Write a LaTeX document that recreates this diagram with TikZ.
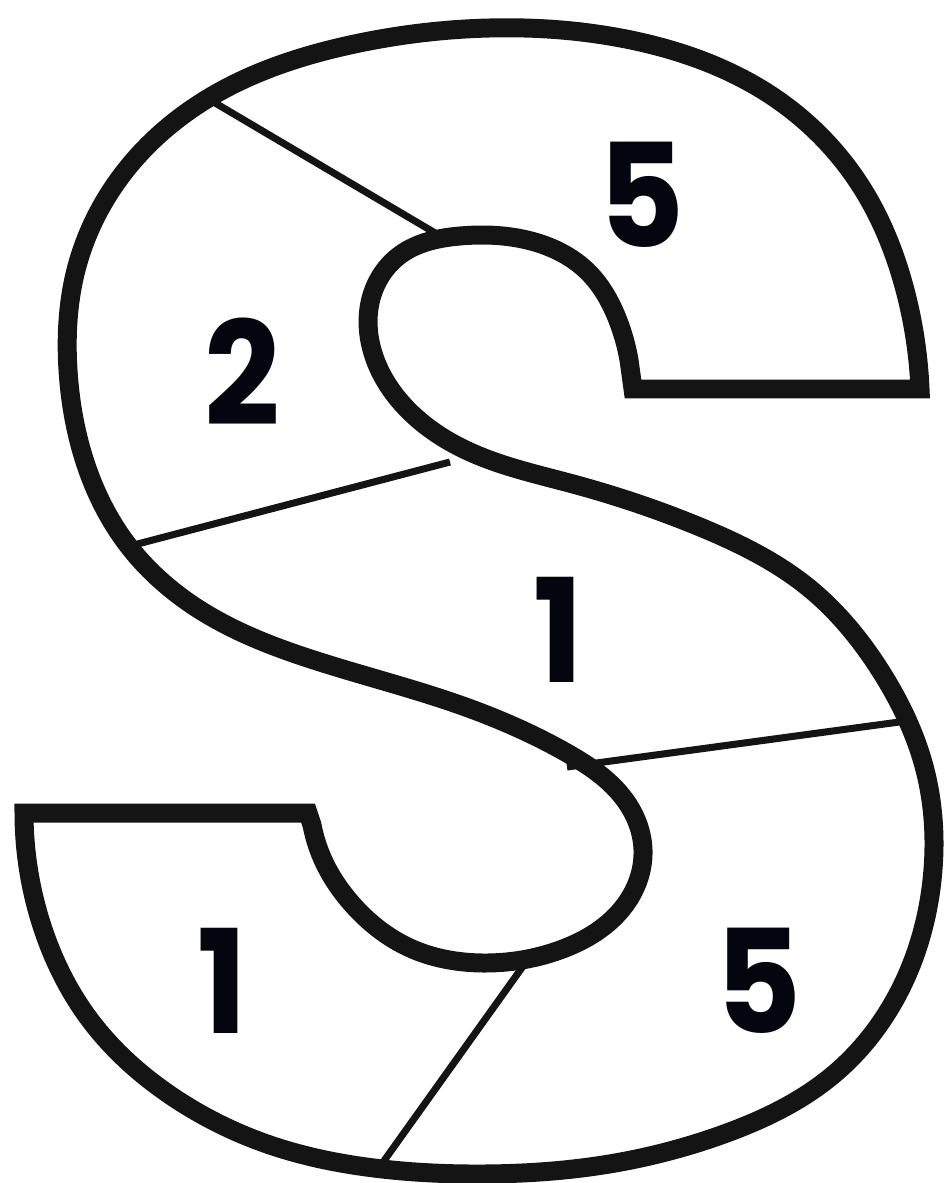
\documentclass[tikz,border=0pt]{standalone}
\usepackage{fontspec}
\setmainfont{Poppins}
\usetikzlibrary{hobby}
\definecolor{inkline}{HTML}{141414}
\definecolor{inkdigit}{HTML}{05050F}
\newcommand{\regionnum}[3]{%
  \node[text=inkdigit, inner sep=0pt, xscale=0.92,
        font=\fontsize{41}{41}\selectfont\bfseries] (#1) at (#2) {#3};}

\begin{document}
\begin{tikzpicture}[x=0.01cm, y=-0.01cm]
      \useasboundingbox (0,0) rectangle (946,1183);
      % the letter outline
      \draw[inkline, line width=5.4pt, line join=miter]
        (633,389) -- (920,389)
        to[curve through={(905,290) (862,188) (772,96) (640,42) (490,28)
           (350,45) (212,96) (122,175) (76,270) (68,370) (86,465) (127,544)
           (200,610) (320,662) (460,705) (567,753) (625,800) (643,850)
           (625,905) (560,950) (483,963) (410,948) (352,904) (324,862)}] (312,825)
        -- (308,813) -- (24,813)
        to[curve through={(42,926) (90,1020) (170,1095) (270,1145) (374,1168)
           (483,1174) (603,1165) (724,1134) (833,1075) (900,990) (932,880)
           (925,770) (880,670) (809,588) (700,527) (573,484) (470,452)
           (408,410) (372,350) (372,295) (400,255) (460,236) (531,241)
           (588,272) (617,318)}] (629,360)
        -- (633,389) -- cycle;

      % ends of the cuts
      \coordinate (c1a) at (205,97);
      \coordinate (c1b) at (447,240);
      \coordinate (c2a) at (450,462);
      \coordinate (c2b) at (130,546);
      \coordinate (c3a) at (567,767);
      \coordinate (c3b) at (914,720);
      \coordinate (c4a) at (531,955);
      \coordinate (c4b) at (376,1172);
      \draw[inkline, line width=2pt] (c1a) -- (c1b);
      \draw[inkline, line width=2pt] (c2a) -- (c2b);
      \draw[inkline, line width=2pt] (c3a) -- (c3b);
      \draw[inkline, line width=2pt] (c4a) -- (c4b);

      \regionnum{topfive}{642,195}{5}
      \regionnum{two}{242,372}{2}
      \regionnum{midone}{558,630}{1}
      \regionnum{lowone}{222,981}{1}
      \regionnum{lowfive}{759,981}{5}
    \end{tikzpicture}
\end{document}
